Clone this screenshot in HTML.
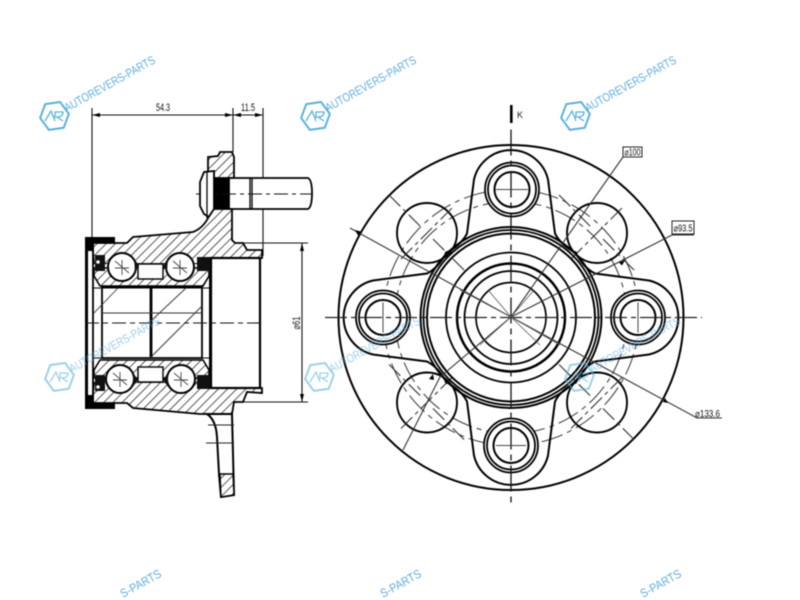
<!DOCTYPE html>
<html><head><meta charset="utf-8"><style>
html,body{margin:0;padding:0;background:#fff;width:800px;height:600px;overflow:hidden}
svg{display:block}
text{font-family:"Liberation Sans",sans-serif}
.d{filter:blur(.5px)}
.w{filter:blur(.4px)}
</style></head><body>
<svg width="800" height="600" viewBox="0 0 800 600" xmlns="http://www.w3.org/2000/svg">
<defs>
<pattern id="h" width="6.5" height="6.5" patternUnits="userSpaceOnUse" patternTransform="rotate(45)"><rect width="6.5" height="6.5" fill="#fff"/><line x1="0" y1="0" x2="0" y2="6.5" stroke="#222" stroke-width="1.5"/></pattern>
<g id="bolt" fill="#fff" stroke="#000" stroke-width="1.8"><circle r="27"/><circle r="24"/><circle r="17.5" stroke-width="2"/></g>
<path id="lobe" d="M-66,-64 Q-50,-72 -44,-84 L-37,-138 A38,38 0 0 1 37,-138 L44,-84 Q50,-72 66,-64" fill="none" stroke="#000" stroke-width="2"/>
<g id="holex" stroke="#333" stroke-width="1.1" fill="none"><circle r="30" stroke="#000" stroke-width="1.9"/><path d="M-38,-38 L-6,-6 M6,6 L38,38 M-26,26 L26,-26" stroke-dasharray="16 4 4 4"/></g>
<g id="ball">
<circle r="14" fill="#fff" stroke="#000" stroke-width="2"/>
<path d="M-7,-6 L7,6 M0,-7 V8 M-7,1 H7" stroke="#444" stroke-width=".9"/>
</g>
<g id="wmi">
<path d="M-7,-13 L8,-13 L15,0 L8,13 L-7,13 L-14,0Z" transform="rotate(-8)" fill="none" stroke="#5ab2dc" stroke-width="2" stroke-linejoin="round"/>
<path d="M-9,5 L-3,-5 L1,5 M1,2 L1,-4 L9,-4 Q9,1 3,1 L9,5" fill="none" stroke="#5ab2dc" stroke-width="1.3"/>
<text transform="translate(13,-4) rotate(-29)" font-size="12" fill="#62acde" textLength="102" lengthAdjust="spacingAndGlyphs">AUTOREVERS-PARTS</text>
</g>
</defs>

<g class="d">
<!-- RIGHT VIEW -->
<g transform="translate(511,317.5)">
<circle r="172.5" fill="none" stroke="#000" stroke-width="2"/>
<circle r="128" fill="none" stroke="#444" stroke-width="1.1" stroke-dasharray="22 5 5 5"/>
<circle r="116" fill="none" stroke="#444" stroke-width="1.1" stroke-dasharray="22 5 5 5"/>
<use href="#holex" transform="translate(-84,-84.5)"/>
<use href="#holex" transform="translate(86,-84.5)"/>
<use href="#holex" transform="translate(-84,85)"/>
<use href="#holex" transform="translate(86,85)"/>
<use href="#lobe"/><use href="#lobe" transform="rotate(90)"/><use href="#lobe" transform="rotate(180)"/><use href="#lobe" transform="rotate(270)"/>
<g fill="none" stroke="#000">
<circle r="90.5" stroke-width="2"/><circle r="87.5" stroke-width="1.8"/><circle r="84" stroke-width="2"/>
<circle r="65" stroke-width="1.8"/><circle r="54" stroke-width="2.5"/><circle r="46.5" stroke-width="1.8"/><circle r="35" stroke-width="1.7"/>
</g>
<use href="#bolt" transform="translate(1,-128)"/>
<use href="#bolt" transform="translate(0,128)"/>
<use href="#bolt" transform="translate(-128,0)"/>
<use href="#bolt" transform="translate(127,0)"/>
<path d="M-186,0 H191" stroke="#222" stroke-width="1.3" stroke-dasharray="22 4 5 4"/>
<path d="M0,-188 V188" stroke="#111" stroke-width="1.3" stroke-dasharray="26 5 6 5"/>
<path d="M-15,-128 H17 M-15,128 H15 M-128,-15 V15 M127,-15 V15" stroke="#444" stroke-width="1"/>
</g>
<rect x="510" y="105" width="2.6" height="18" fill="#000"/>
<text x="517" y="118" font-size="9" fill="#222">K</text>
<!-- leaders -->
<g stroke="#333" stroke-width="1.1" fill="none">
<path d="M623,157 L511,317 M403,450 L440,377 L511,317"/>
<path d="M672,235 L511,317 M672,235 H694"/>
<path d="M350,228 L511,317 L697,418 H722"/>
<path d="M488,290 L511,317 M534,290 L511,317 M480,345 L511,317 M540,345 L511,317 M460,290 L511,317 M560,345 L511,317" stroke="#555" stroke-width=".8"/>
</g>
<rect x="623" y="147" width="19" height="10" fill="#fff" stroke="#222"/>
<text x="632.5" y="155.500" font-size="10" text-anchor="middle" fill="#111" textLength="16" lengthAdjust="spacingAndGlyphs">⌀100</text>
<rect x="672" y="221" width="22" height="13" fill="#fff" stroke="#222"/>
<text x="683" y="231.500" font-size="10" text-anchor="middle" fill="#111" textLength="19" lengthAdjust="spacingAndGlyphs">⌀93.5</text>
<text x="695" y="417" font-size="10" fill="#111" textLength="25" lengthAdjust="spacingAndGlyphs">⌀133.6</text>
<path d="M355,230 l6,1.500 l-3,4z M433,374 l-4,5 l5,1z M668,403 l-5,-1 l2,-4z M625,260 l-6,2.500 l3,3z" fill="#000"/>

<!-- LEFT VIEW -->
<g stroke="#111" stroke-width="1.1" fill="none">
<path d="M92,108 V240 M263,108 V256 M233,108 V152"/>
<path d="M92,115 H263"/>
<path d="M235,243 H308 M243,402 H308 M302,243 V402"/>
</g>
<path d="M92,115 l8,-2 v4z M233,115 l-8,-2 v4z M233,115 l8,-2 v4z M263,115 l-8,-2 v4z M302,243 l-2,8 h4z M302,402 l-2,-8 h4z" fill="#000"/>
<text x="163" y="111" font-size="11" text-anchor="middle" fill="#111" textLength="14" lengthAdjust="spacingAndGlyphs">54.3</text>
<text x="248" y="111" font-size="11" text-anchor="middle" fill="#111" textLength="14" lengthAdjust="spacingAndGlyphs">11.5</text>
<text transform="translate(300,323) rotate(-90)" font-size="11" text-anchor="middle" fill="#111" textLength="13" lengthAdjust="spacingAndGlyphs">⌀61</text>
<text x="168" y="310" font-size="10" text-anchor="middle" fill="#111">45</text>

<!-- upper flange -->
<path d="M208,157 L218,156 L220,152 L232,152 L234,157 L234,178 L214,178 L214,174 L208,172Z" fill="url(#h)" stroke="#000" stroke-width="1.8"/>
<path d="M229,178 H308 Q312,180 312,193 Q312,207 308,209 H229Z" fill="#fff" stroke="#000" stroke-width="1.8"/>
<rect x="214" y="178" width="15" height="31" fill="#000"/>
<path d="M250,178 V209 M252,178 V209" stroke="#000" stroke-width="1.3"/>
<path d="M196,194 H313" stroke="#111" stroke-width="1.1" stroke-dasharray="14 4 4 4"/>
<path d="M214,171 L204,172 L200,182 L200,206 L204,214 L212,219 L214,210Z" fill="#fff" stroke="#000" stroke-width="1.8"/>
<path d="M207,172 V218" stroke="#000" stroke-width="1.3"/>
<!-- body upper -->
<path d="M93,252 L93,243 L127,243 L133,237 L193,232 Q203,228 208,218 L214,209 L232,209 L232,240 L235,243 L243,243 L247,250 L262,250 L262,258 L210,258 L210,264 L94,264Z" fill="url(#h)" stroke="#000" stroke-width="1.8"/>
<!-- body lower -->
<path d="M93,394 L93,403 L127,403 L133,408 L200,414 L232,414 L234,402 L243,402 L247,392 L262,393 L262,388 L210,388 L210,382 L94,382Z" fill="url(#h)" stroke="#000" stroke-width="1.8"/>
<path d="M207,414 Q216,420 217,437 L219,474 L221,497 L234,495 L232,414Z" fill="#fff" stroke="#000" stroke-width="2"/>
<path d="M220,474 H233 L234,495 L221,497Z" fill="url(#h)" stroke="#000" stroke-width="1.4"/>
<path d="M208,425 H234 M206,443 H234" stroke="#222" stroke-width="1"/>
<!-- bore -->
<rect x="211" y="258" width="49" height="130" fill="#fff" stroke="#000" stroke-width="2.2"/>
<rect x="94" y="264" width="116" height="118" fill="#fff"/>
<rect x="85" y="237" width="30" height="6" fill="#000"/>
<rect x="85" y="403" width="30" height="6" fill="#000"/>
<rect x="85" y="237" width="3" height="172" fill="#000"/>
<path d="M93,243 V403" stroke="#000" stroke-width="1.8"/>
<rect x="88" y="243" width="5" height="8" fill="#000"/>
<rect x="88" y="395" width="5" height="8" fill="#000"/>
<path d="M210,258 V388" stroke="#000" stroke-width="2"/>
<!-- races -->
<path d="M94,276 L100,286 H203 L209,276 V268 H94Z" fill="url(#h)" stroke="#000" stroke-width="1.6"/>
<path d="M94,370 L100,360 H203 L209,370 V378 H94Z" fill="url(#h)" stroke="#000" stroke-width="1.6"/>
<rect x="138" y="264" width="25" height="15" fill="#fff" stroke="#000" stroke-width="1.4"/>
<rect x="138" y="367" width="25" height="15" fill="#fff" stroke="#000" stroke-width="1.4"/>
<rect x="95" y="255" width="10" height="16" fill="#111"/>
<rect x="197" y="257" width="13" height="14" fill="#111"/>
<rect x="95" y="375" width="10" height="16" fill="#111"/>
<rect x="197" y="375" width="13" height="14" fill="#111"/>
<circle cx="98" cy="262" r="1.800" fill="#fff"/><circle cx="98" cy="387" r="1.800" fill="#fff"/>
<use href="#ball" transform="translate(122,267)"/>
<use href="#ball" transform="translate(180,267)"/>
<use href="#ball" transform="translate(120,379)"/>
<use href="#ball" transform="translate(181,379)"/>
<path d="M134,258 l5,8 l-4,6z M168,258 l-5,8 l4,6z M132,388 l6,-8 l-4,-6z M169,388 l-6,-8 l4,-6z" fill="#111"/>
<!-- bore lines -->
<g fill="none" stroke="#000">
<path d="M102,287 H202 V358 H102Z" stroke-width="1.8"/>
<path d="M151,287 V358" stroke-width="2.8"/>
<path d="M92,288 H210 M92,358 H210" stroke-width="1.1"/>
</g>
<path d="M94,313 L118,288 M150,358 L202,306 M152,320 L186,288 M102,313 H202" stroke="#333" stroke-width=".9" fill="none"/>
<path d="M85,323 H265" stroke="#111" stroke-width="1.1" stroke-dasharray="14 4 5 4"/>
</g>

<!-- watermarks -->
<g class="w">
<use href="#wmi" transform="translate(54,116)"/>
<use href="#wmi" transform="translate(315,116)"/>
<use href="#wmi" transform="translate(575,116)"/>
<g opacity=".6">
<use href="#wmi" transform="translate(59,377)"/>
<use href="#wmi" transform="translate(319,377)"/>
<use href="#wmi" transform="translate(579,377)"/>
</g>
<g font-size="12" fill="#62acde">
<text transform="translate(123,598) rotate(-29)" textLength="45" lengthAdjust="spacingAndGlyphs">S-PARTS</text>
<text transform="translate(383,598) rotate(-29)" textLength="45" lengthAdjust="spacingAndGlyphs">S-PARTS</text>
<text transform="translate(643,598) rotate(-29)" textLength="45" lengthAdjust="spacingAndGlyphs">S-PARTS</text>
</g>
</g>
</svg>
</body></html>
